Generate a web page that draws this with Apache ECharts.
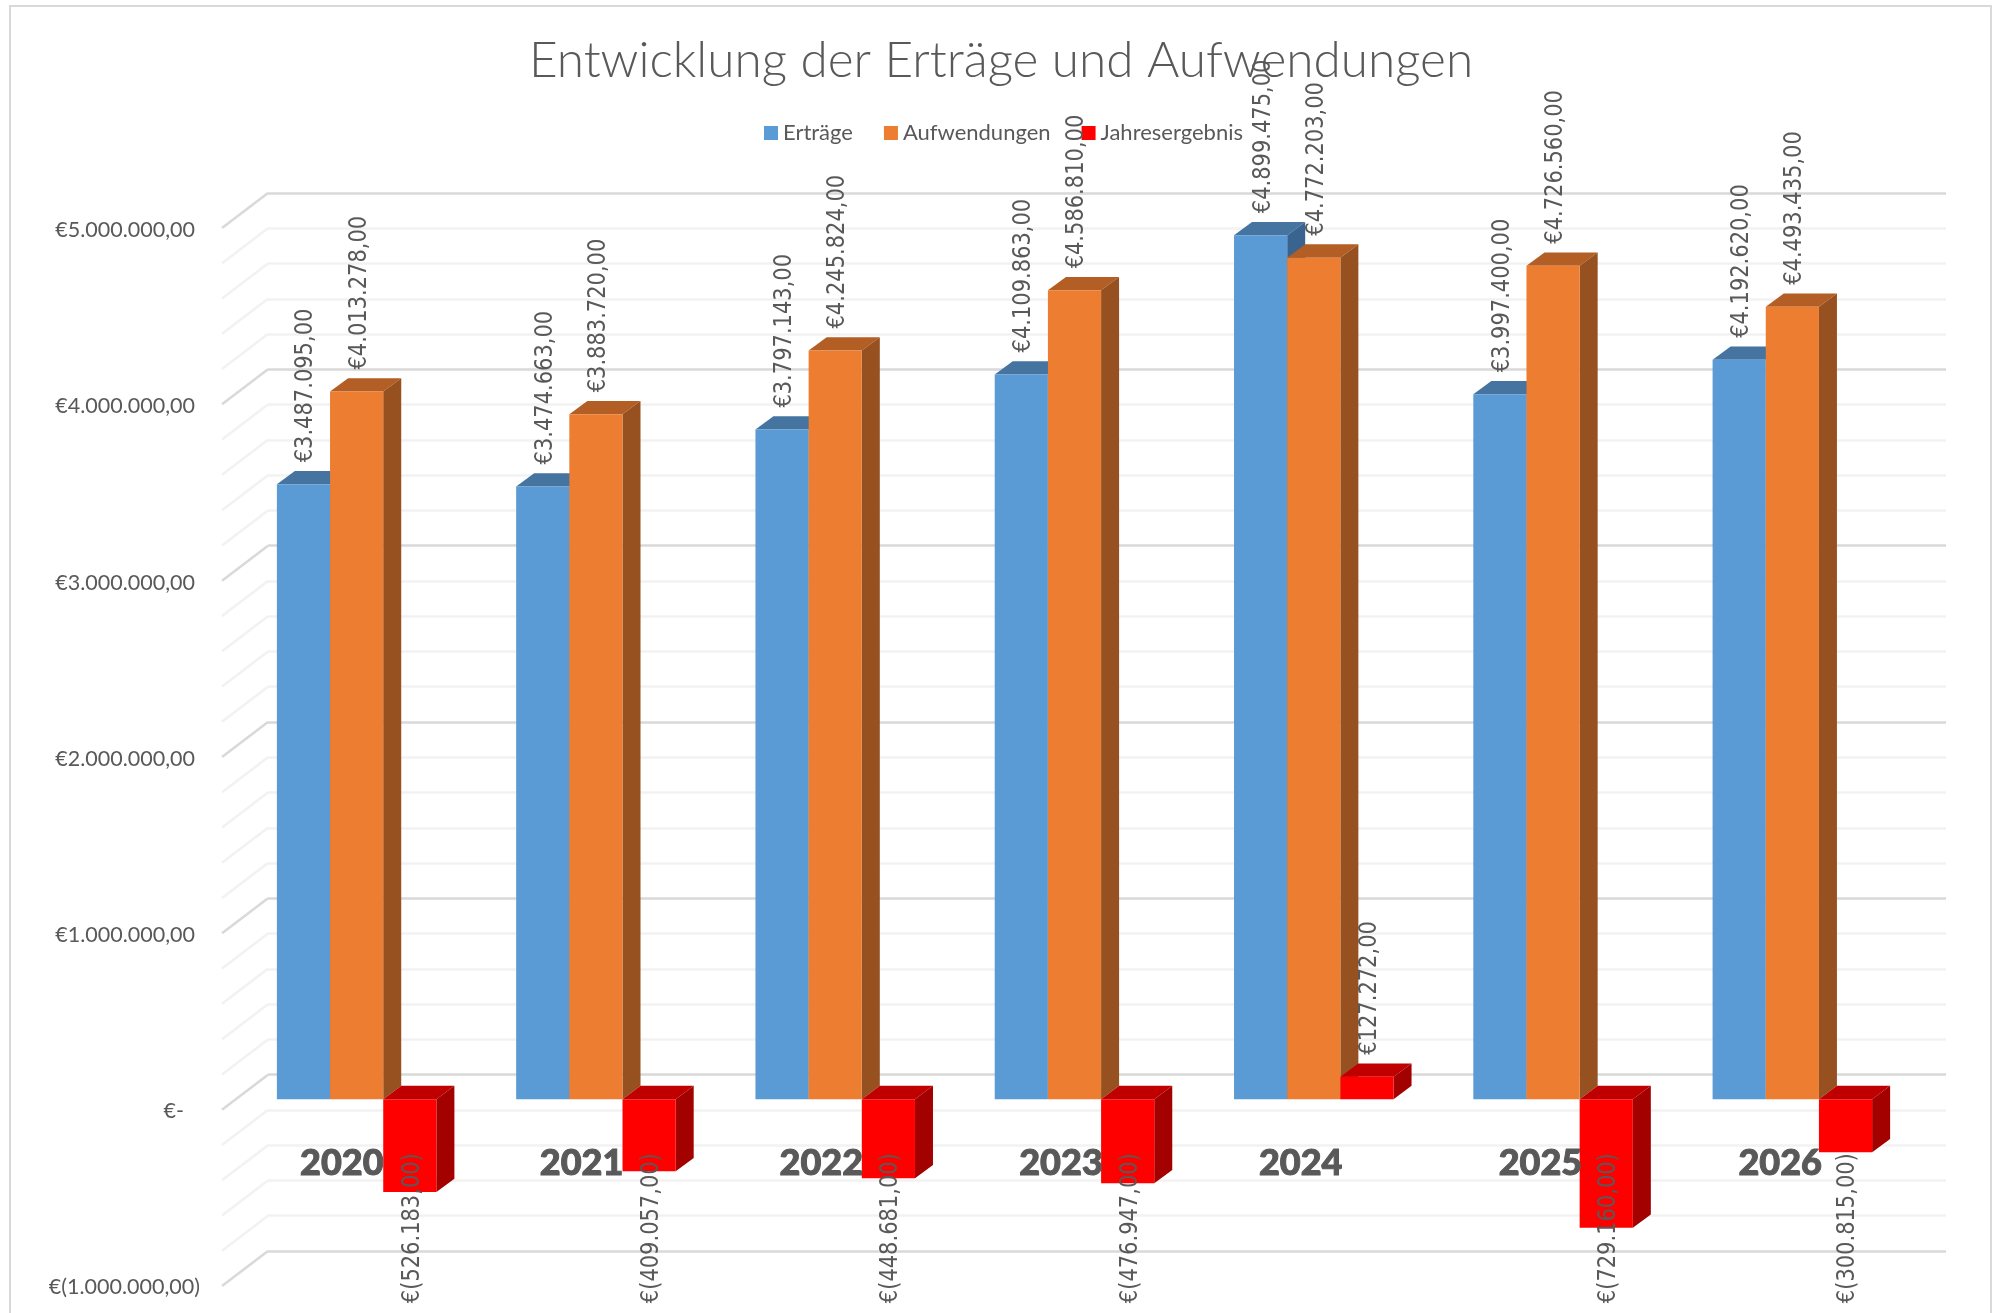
<!DOCTYPE html>
<html>
<head>
<meta charset="utf-8">
<title>Entwicklung der Erträge und Aufwendungen</title>
<style>
	html, body { margin: 0; padding: 0; background: #fff; }
	#chart { width: 1993px; height: 1313px; }
</style>
<script src="https://cdn.jsdelivr.net/npm/echarts@6/dist/echarts.min.js"></script>
</head>
<body>
<div id="chart"></div>
<script>
//Chart data
let years = ['2020', '2021', '2022', '2023', '2024', '2025', '2026'];
let ertraege = [3487095, 3474663, 3797143, 4109863, 4899475, 3997400, 4192620];
let aufwendungen = [4013278, 3883720, 4245824, 4586810, 4772203, 4726560, 4493435];
let jahresergebnis = [-526183, -409057, -448681, -476947, 127272, -729160, -300815];
let gridValues = [-1000000, -800000, -600000, -400000, -200000, 0, 200000, 400000, 600000, 800000,
	1000000, 1200000, 1400000, 1600000, 1800000, 2000000, 2200000, 2400000, 2600000, 2800000,
	3000000, 3200000, 3400000, 3600000, 3800000, 4000000, 4200000, 4400000, 4600000, 4800000, 5000000];

let textColor = '#595959';
let labelColor = '#595959';

// Depth of the fake 3D: floor diagonals and the bars themselves
let wallDx = 46, wallDy = 35;
let barDx = 18, barDy = 13.3;

function money(v) {
	let s = Math.abs(v).toFixed(2).replace('.', ',').replace(/\B(?=(\d{3})+(?!\d))/g, '.');
	return v < 0 ? '€(' + s + ')' : '€' + s;
}

// Top and side faces of one series. idx is the position of the bar inside its group.
function extrude(idx, topColor, sideColor) {
	return function (params, api) {
		let cat = api.value(0);
		let top = api.coord([cat, api.value(1)]);
		let zero = api.coord([cat, 0]);
		let barW = api.size([1, 0])[0] / 4.5;
		let x0 = top[0] + (idx - 1.5) * barW;
		let x1 = x0 + barW;
		let faceY = Math.min(top[1], zero[1]);
		return {
			type: 'group',
			children: [
				{
					type: 'polygon',
					shape: { points: [[x0, faceY], [x1, faceY], [x1 + barDx, faceY - barDy], [x0 + barDx, faceY - barDy]] },
					style: { fill: topColor }
				},
				{
					type: 'polygon',
					shape: { points: [[x1, top[1]], [x1 + barDx, top[1] - barDy], [x1 + barDx, zero[1] - barDy], [x1, zero[1]]] },
					style: { fill: sideColor }
				}
			]
		};
	};
}

// Rotated value labels. Negative ones sit at a fixed distance under the zero line.
// The original text is stretched across its height, hence scaleY.
function valueLabels(idx) {
	return function (params, api) {
		let cat = api.value(0);
		let v = api.value(1);
		let top = api.coord([cat, v]);
		let zero = api.coord([cat, 0]);
		let barW = api.size([1, 0])[0] / 4.5;
		let x = top[0] + (idx - 1) * barW + 2.5;
		let y = v < 0 ? zero[1] + 204 : top[1] - 22;
		return {
			type: 'text',
			x: x,
			y: y,
			rotation: Math.PI / 2,
			scaleY: 1.18,
			style: {
				text: money(v),
				font: '21px "DejaVu Sans"',
				fill: labelColor,
				align: 'left',
				verticalAlign: 'middle'
			}
		};
	};
}

// Diagonals from the back wall to the front edge of the floor
function floorLine(params, api) {
	let v = api.value(1);
	let p = api.coord([0, v]);
	let x = params.coordSys.x;
	let major = v % 1000000 === 0;
	return {
		type: 'line',
		shape: { x1: x, y1: p[1], x2: x - wallDx, y2: p[1] + wallDy },
		style: { stroke: major ? '#d9d9d9' : '#f2f2f2', lineWidth: 2.5 }
	};
}

function pairs(values) {
	return values.map(function (v, i) { return [i, v]; });
}

let chart = echarts.init(document.getElementById('chart'));

chart.setOption({
	animation: false,
	backgroundColor: '#fff',
	title: {
		text: 'Entwicklung der Erträge und Aufwendungen',
		left: 996,
		textAlign: 'center',
		top: 31,
		textStyle: { fontFamily: 'Lato', fontWeight: 300, fontSize: 49.5, color: textColor }
	},
	legend: {
		data: ['Erträge', 'Aufwendungen', 'Jahresergebnis'],
		left: 759,
		top: 117,
		itemWidth: 14,
		itemHeight: 14,
		itemGap: 31,
		icon: 'rect',
		textStyle: { fontFamily: 'Lato', fontSize: 22, color: textColor }
	},
	graphic: [{
		type: 'rect',
		shape: { x: 10, y: 6, width: 1981, height: 1340 },
		style: { fill: 'none', stroke: '#d9d9d9', lineWidth: 2 },
		silent: true
	}],
	grid: [
		{ left: 268, top: 193, width: 1678, height: 1058, outerBoundsMode: 'none' },  // back wall
		{ left: 222, top: 228, width: 1678, height: 1058, outerBoundsMode: 'none' },  // front edge, carries the labels
		{ left: 237, top: 217.5, width: 1675, height: 1058, outerBoundsMode: 'none' } // plane of the bars
	],
	xAxis: [
		{ gridIndex: 0, type: 'category', data: years, show: false },
		{
			gridIndex: 1,
			type: 'category',
			data: years,
			z: 10,
			position: 'bottom',
			offset: -177, // up to the zero line of the front edge
			axisLine: { show: false, onZero: false },
			axisTick: { show: false },
			axisLabel: {
				margin: 36,
				fontFamily: 'Lato',
				fontWeight: 900,
				fontSize: 36,
				color: textColor,
				textBorderColor: textColor,
				textBorderWidth: 1
			}
		},
		{ gridIndex: 2, type: 'category', data: years, show: false }
	],
	yAxis: [
		{
			gridIndex: 0,
			type: 'value',
			min: -1000000,
			max: 5000000,
			interval: 1000000,
			axisLine: { show: false },
			axisTick: { show: false },
			axisLabel: { show: false },
			splitLine: { show: true, lineStyle: { color: '#d9d9d9', width: 2.5 } },
			minorTick: { show: false, splitNumber: 5 },
			minorSplitLine: { show: true, lineStyle: { color: '#f2f2f2', width: 2.5 } }
		},
		{
			gridIndex: 1,
			type: 'value',
			min: -1000000,
			max: 5000000,
			interval: 1000000,
			axisLine: { show: false },
			axisTick: { show: false },
			splitLine: { show: false },
			axisLabel: {
				margin: 22,
				formatter: function (v) {
					if (v === 0) return '{zero|€-}';
					return (v < 0 ? '{neg|' : '{pos|') + money(v) + '}';
				},
				rich: {
					pos: { fontFamily: 'Lato', fontSize: 21.5, color: textColor, padding: [4, 5, 0, 0] },
					neg: { fontFamily: 'Lato', fontSize: 21.5, color: textColor, padding: [3, 0, 0, 0] },
					zero: { fontFamily: 'Lato', fontSize: 21.5, color: textColor, padding: [3, 16, 0, 0] }
				}
			}
		},
		{ gridIndex: 2, type: 'value', min: -1000000, max: 5000000, interval: 1000000, show: false }
	],
	series: [
		{
			type: 'custom',
			name: 'Boden',
			xAxisIndex: 0,
			yAxisIndex: 0,
			silent: true,
			renderItem: floorLine,
			data: gridValues.map(function (v) { return [0, v]; })
		},
		{
			type: 'custom', name: 'Erträge 3D', xAxisIndex: 2, yAxisIndex: 2, silent: true,
			renderItem: extrude(0, '#44749F', '#3A6490'),
			data: pairs(ertraege)
		},
		{
			type: 'bar', name: 'Erträge', xAxisIndex: 2, yAxisIndex: 2,
			barGap: 0, barCategoryGap: '33.33%',
			itemStyle: { color: '#5B9BD5' },
			data: ertraege
		},
		{
			type: 'custom', name: 'Aufwendungen 3D', xAxisIndex: 2, yAxisIndex: 2, silent: true,
			renderItem: extrude(1, '#B25E24', '#97501F'),
			data: pairs(aufwendungen)
		},
		{
			type: 'bar', name: 'Aufwendungen', xAxisIndex: 2, yAxisIndex: 2,
			itemStyle: { color: '#ED7D31' },
			data: aufwendungen
		},
		{
			type: 'custom', name: 'Jahresergebnis 3D', xAxisIndex: 2, yAxisIndex: 2, silent: true,
			renderItem: extrude(2, '#C00000', '#A30000'),
			data: pairs(jahresergebnis)
		},
		{
			type: 'bar', name: 'Jahresergebnis', xAxisIndex: 2, yAxisIndex: 2,
			itemStyle: { color: '#FF0000' },
			data: jahresergebnis
		},
		{ type: 'custom', name: 'Labels 1', xAxisIndex: 2, yAxisIndex: 2, z: 20, silent: true, renderItem: valueLabels(0), data: pairs(ertraege) },
		{ type: 'custom', name: 'Labels 2', xAxisIndex: 2, yAxisIndex: 2, z: 20, silent: true, renderItem: valueLabels(1), data: pairs(aufwendungen) },
		{ type: 'custom', name: 'Labels 3', xAxisIndex: 2, yAxisIndex: 2, z: 20, silent: true, renderItem: valueLabels(2), data: pairs(jahresergebnis) }
	]
});
</script>
</body>
</html>
